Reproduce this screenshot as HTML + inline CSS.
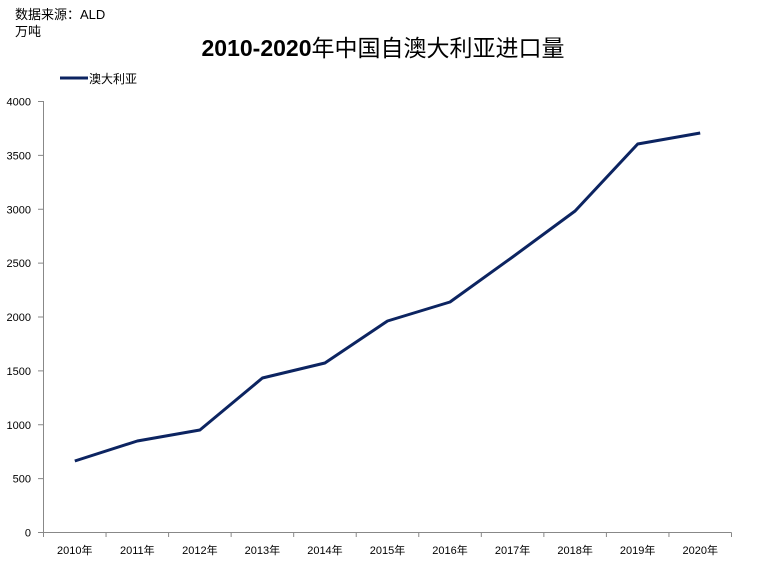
<!DOCTYPE html>
<html><head><meta charset="utf-8"><style>
html,body{margin:0;padding:0;background:#fff;}
svg text{font-family:"Liberation Sans","Noto Sans CJK SC",sans-serif;}
</style></head><body>
<svg width="769" height="581" xmlns="http://www.w3.org/2000/svg">
<rect width="769" height="581" fill="#fff"/>
<text x="15" y="19" font-size="13" fill="#000">数据来源：ALD</text>
<text x="15" y="36" font-size="13" fill="#000">万吨</text>
<text x="383" y="56" font-size="23" text-anchor="middle" fill="#000"><tspan font-weight="bold">2010-2020</tspan><tspan font-weight="normal">年中国自澳大利亚进口量</tspan></text>
<line x1="60" y1="78" x2="88" y2="78" stroke="#0c2461" stroke-width="3"/>
<text x="89" y="83" font-size="12" fill="#000">澳大利亚</text>
<g stroke="#888" stroke-width="1" fill="none">
<line x1="43.5" y1="101" x2="43.5" y2="532.5"/>
<line x1="43.5" y1="532.5" x2="731.5" y2="532.5"/>
</g>
<g stroke="#888" stroke-width="1" id="yt"></g>
<g font-size="11" fill="#000" text-anchor="end" id="yl"></g>
<g stroke="#888" stroke-width="1" id="xt"></g>
<g font-size="11" fill="#000" text-anchor="middle" id="xl"></g>
<polyline id="ln" fill="none" stroke="#0c2461" stroke-width="3" stroke-linejoin="round" points=""/>
</svg>
<script>
var ns="http://www.w3.org/2000/svg";
function el(t,a,p,txt){var e=document.createElementNS(ns,t);for(var k in a)e.setAttribute(k,a[k]);if(txt!=null)e.textContent=txt;document.getElementById(p).appendChild(e);}
for(var i=0;i<=8;i++){var y=532.5-i*53.875;el('line',{x1:38,x2:43.5,y1:y,y2:y},'yt');el('text',{x:31,y:y+4},'yl',String(i*500));}
var d=[659,845,947,1429,1568,1958,2135,2552,2979,3601,3703],pts=[];
for(var i=0;i<=11;i++){var x=43.5+i*62.545;el('line',{x1:x,x2:x,y1:532.5,y2:537},'xt');}
for(var i=0;i<11;i++){var x=43.5+31.27+i*62.545;el('text',{x:x,y:554},'xl',(2010+i)+'年');pts.push(x.toFixed(1)+','+(532-d[i]*0.10775).toFixed(1));}
document.getElementById('ln').setAttribute('points',pts.join(' '));
</script>
</body></html>
